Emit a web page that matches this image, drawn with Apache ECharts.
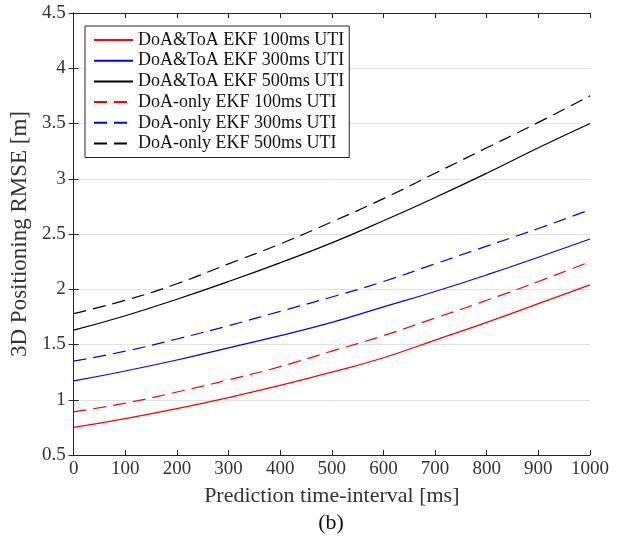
<!DOCTYPE html>
<html>
<head>
<meta charset="utf-8">
<script src="https://cdn.jsdelivr.net/npm/echarts@6/dist/echarts.min.js"></script>
<style>html,body{margin:0;padding:0;background:#fff;}#c{width:624px;height:542px;}</style>
</head>
<body>
<div id="c"></div>
<script>
const xTicks = [0,100,200,300,400,500,600,700,800,900,1000];
const seriesNames = [
  'DoA&ToA EKF 100ms UTI','DoA&ToA EKF 300ms UTI','DoA&ToA EKF 500ms UTI',
  'DoA-only EKF 100ms UTI','DoA-only EKF 300ms UTI','DoA-only EKF 500ms UTI'
];
const toa100 = [0.75,0.83,0.92,1.02,1.13,1.25,1.38,1.54,1.70,1.87,2.04];
const toa300 = [1.17,1.26,1.36,1.47,1.58,1.70,1.84,1.98,2.13,2.29,2.455];
const toa500 = [1.63,1.76,1.91,2.07,2.24,2.42,2.62,2.83,3.05,3.28,3.50];
const doa100 = [0.89,0.97,1.07,1.18,1.30,1.44,1.58,1.74,1.90,2.07,2.25];
const doa300 = [1.35,1.44,1.55,1.67,1.80,1.93,2.07,2.23,2.39,2.55,2.72];
const doa500 = [1.78,1.90,2.05,2.23,2.41,2.61,2.82,3.05,3.28,3.51,3.75];
const colors = ['#ff0000','#0000ff','#000000','#ff0000','#0000ff','#000000'];
const dashed = [false,false,false,true,true,true];
const allData = [toa100,toa300,toa500,doa100,doa300,doa500];

const font = 'Liberation Serif, DejaVu Serif, serif';
const axisColor = '#262626';
const chart = echarts.init(document.getElementById('c'));
const series = allData.map((d,i)=>({
  name: seriesNames[i],
  type: 'line',
  data: d.map((v,j)=>[xTicks[j], v]),
  symbol: 'none',
  smooth: true,
  lineStyle: {color: colors[i], width: 1.2, type: dashed[i] ? [13,7] : 'solid'},
  itemStyle: {color: colors[i]},
  xAxisIndex: 0, yAxisIndex: 0
}));
const common = {
  axisLine: {show: true, lineStyle: {color: axisColor, width: 1}},
  axisTick: {show: true, inside: true, length: 5, lineStyle: {color: axisColor}},
};
chart.setOption({
  animation: false,
  backgroundColor: '#fff',
  grid: {left: 72, right: 34, top: 13, bottom: 87},
  legend: {
    orient: 'vertical', left: 85, top: 26,
    data: seriesNames,
    itemWidth: 39, itemHeight: 14, itemGap: 0.7,
    itemStyle: {opacity: 0},
    padding: [4, 5, 4, 8],
    borderColor: '#262626', borderWidth: 1, backgroundColor: '#fff',
    textStyle: {fontFamily: font, fontSize: 18, color: '#111', lineHeight: 20}
  },
  xAxis: [
    Object.assign({
      type: 'value', min: 0, max: 1000, interval: 100, position: 'bottom',
      name: 'Prediction time-interval [ms]', nameLocation: 'middle', nameGap: 30,
      nameTextStyle: {fontFamily: font, fontSize: 22, color: '#333'},
      axisLabel: {fontFamily: font, fontSize: 19, color: '#333', margin: 5,
        formatter: v => String(v)},
      splitLine: {show: false}
    }, common),
    Object.assign({
      type: 'value', min: 0, max: 1000, interval: 100, position: 'top',
      axisLabel: {show: false}, splitLine: {show: false}
    }, common)
  ],
  yAxis: [
    Object.assign({
      type: 'value', min: 0.5, max: 4.5, interval: 0.5, position: 'left',
      name: '3D Positioning RMSE [m]', nameLocation: 'middle', nameGap: 38,
      nameTextStyle: {fontFamily: font, fontSize: 23, color: '#333'},
      axisLabel: {fontFamily: font, fontSize: 19, color: '#333', margin: 8,
        formatter: v => String(v)},
      splitLine: {show: true, lineStyle: {color: '#e3e3e3', width: 1}}
    }, common),
    Object.assign({
      type: 'value', min: 0.5, max: 4.5, interval: 0.5, position: 'right',
      axisLabel: {show: false}, splitLine: {show: false}
    }, common)
  ],
  graphic: [{
    type: 'text', x: 331, y: 523,
    style: {text: '(b)', font: '22px ' + font, fill: '#111', align: 'center', verticalAlign: 'middle'}
  }],
  series: series
});
</script>
</body>
</html>
